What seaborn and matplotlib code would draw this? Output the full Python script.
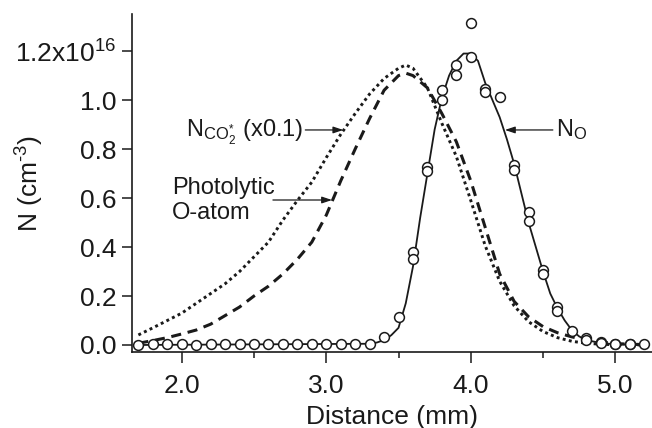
import numpy as np
import matplotlib
matplotlib.use("Agg")
import matplotlib.pyplot as plt
import seaborn as sns

# distance (mm) of the measured points, and two repeat measurements (x1e16 cm^-3)
circ_x = [1.7, 1.8, 1.9, 2.0, 2.1, 2.2, 2.3, 2.4, 2.5, 2.6, 2.7, 2.8, 2.9, 3.0,
          3.1, 3.2, 3.3, 3.4, 3.5, 3.6, 3.7, 3.8, 3.9, 4.0, 4.1, 4.2, 4.3, 4.4,
          4.5, 4.6, 4.7, 4.8, 4.9, 5.0, 5.1, 5.2]
circ_a = [0.0, 0.005, 0.003, 0.003, 0.0, 0.002, 0.004, 0.002, 0.002, 0.004,
          0.003, 0.002, 0.004, 0.003, 0.005, 0.004, 0.006, 0.034, 0.116, 0.381,
          0.725, 1.04, 1.143, 1.316, 1.045, 1.011, 0.735, 0.544, 0.306, 0.156,
          0.058, 0.030, 0.013, 0.006, 0.005, 0.004]
circ2_x = [3.6, 3.7, 3.8, 3.9, 4.0, 4.1, 4.3, 4.4, 4.5, 4.6, 4.8, 4.9, 5.0, 5.1]
circ_b = [0.351, 0.712, 1.0, 1.102, 1.174, 1.035, 0.714, 0.506, 0.29, 0.14,
          0.02, 0.008, 0.002, 0.002]

# N_O fit (solid)
fit_x = [1.7, 3.3, 3.35, 3.4, 3.45, 3.5, 3.55, 3.6, 3.65, 3.7, 3.75, 3.8, 3.85,
         3.9, 3.95, 4.0, 4.05, 4.1, 4.15, 4.2, 4.25, 4.3, 4.35, 4.4, 4.45, 4.5,
         4.55, 4.6, 4.65, 4.7, 4.75, 4.8, 4.9, 5.0, 5.2]
fit_y = [0.0, 0.005, 0.01, 0.02, 0.04, 0.07, 0.17, 0.32, 0.52, 0.70, 0.88, 1.01,
         1.10, 1.16, 1.19, 1.19, 1.16, 1.07, 1.00, 0.93, 0.84, 0.74, 0.62, 0.50,
         0.40, 0.30, 0.21, 0.15, 0.10, 0.06, 0.035, 0.02, 0.008, 0.003, 0.0]

# N_CO2* (x0.1) (dotted)
co2_x = [1.7, 1.8, 1.9, 2.0, 2.1, 2.2, 2.3, 2.4, 2.5, 2.6, 2.7, 2.8, 2.9, 3.0,
         3.1, 3.2, 3.3, 3.4, 3.5, 3.55, 3.6, 3.7, 3.8, 3.9, 4.0, 4.1, 4.2, 4.3,
         4.4, 4.5, 4.6, 4.7, 4.8, 4.9, 5.0, 5.2]
co2_y = [0.041, 0.07, 0.10, 0.13, 0.17, 0.21, 0.25, 0.30, 0.36, 0.42, 0.51,
         0.59, 0.665, 0.765, 0.86, 0.945, 1.025, 1.088, 1.13, 1.143, 1.13, 1.05,
         0.905, 0.77, 0.59, 0.405, 0.26, 0.16, 0.095, 0.055, 0.03, 0.015, 0.007,
         0.003, 0.001, 0.0]

# photolytic O-atom (dashed)
pho_x = [1.7, 1.8, 1.9, 2.0, 2.1, 2.2, 2.3, 2.4, 2.5, 2.6, 2.7, 2.8, 2.9, 3.0,
         3.1, 3.2, 3.3, 3.4, 3.5, 3.55, 3.6, 3.7, 3.8, 3.9, 4.0, 4.1, 4.2, 4.3,
         4.4, 4.5, 4.6, 4.7, 4.8, 4.9, 5.0, 5.1, 5.2]
pho_y = [0.007, 0.018, 0.03, 0.045, 0.061, 0.085, 0.12, 0.155, 0.20, 0.24, 0.29,
         0.35, 0.42, 0.53, 0.67, 0.80, 0.925, 1.04, 1.10, 1.11, 1.10, 1.05, 0.945,
         0.83, 0.67, 0.48, 0.29, 0.178, 0.115, 0.075, 0.05, 0.033, 0.02, 0.012,
         0.006, 0.003, 0.002]

y_ticks = [0.0, 0.2, 0.4, 0.6, 0.8, 1.0, 1.2]
y_labels = ["0.0", "0.2", "0.4", "0.6", "0.8", "1.0", "1.2x10$^{16}$"]
x_ticks = [2.0, 3.0, 4.0, 5.0]
x_labels = ["2.0", "3.0", "4.0", "5.0"]

sns.set_style("ticks")
plt.rcParams["font.family"] = ["Liberation Sans", "DejaVu Sans"]
plt.rcParams["mathtext.fontset"] = "custom"
plt.rcParams["mathtext.rm"] = "Liberation Sans"
plt.rcParams["mathtext.it"] = "Liberation Sans"
plt.rcParams["mathtext.default"] = "regular"

ink = "#1a1a1a"
fig = plt.figure(figsize=(6.52, 4.28), dpi=100)
ax = fig.add_axes([0.2025, 0.1776, 0.7975, 0.7894])

sns.lineplot(x=co2_x, y=co2_y, ax=ax, color=ink, lw=2.1,
             linestyle=(0, (1, 1.15)), sort=False)
sns.lineplot(x=pho_x, y=pho_y, ax=ax, color=ink, lw=2.2,
             linestyle=(0, (3.3, 2.2)), sort=False)
sns.lineplot(x=fit_x, y=fit_y, ax=ax, color=ink, lw=1.3, sort=False)
sns.scatterplot(x=circ_x, y=circ_a, ax=ax, marker="o", s=50,
                facecolor="white", edgecolor=ink, linewidth=1.1, zorder=5)
sns.scatterplot(x=circ2_x, y=circ_b, ax=ax, marker="o", s=50,
                facecolor="white", edgecolor=ink, linewidth=1.1, zorder=5)

ax.set_xlim(1.656, 5.254)
ax.set_ylim(-0.0286, 1.351)
ax.set_xticks(x_ticks)
ax.set_xticklabels(x_labels)
ax.set_xticks([2.5, 3.5, 4.5], minor=True)
ax.set_yticks(y_ticks)
ax.set_yticklabels(y_labels)
ax.tick_params(axis="both", which="major", labelsize=19, length=7, width=1.1,
               color=ink, labelcolor=ink)
ax.tick_params(axis="x", which="major", length=8, pad=8)
ax.tick_params(axis="y", which="major", pad=4)
ax.tick_params(axis="x", which="minor", length=4, width=1.1, color=ink)
sns.despine(ax=ax)
for s in ["left", "bottom"]:
    ax.spines[s].set_linewidth(1.2)
    ax.spines[s].set_color(ink)

ax.set_xlabel("Distance (mm)", fontsize=19, color=ink, labelpad=5)
ax.set_ylabel("N (cm$^{\u20103}$)", fontsize=19, color=ink)
ax.yaxis.set_label_coords(-0.165, 0.5)

arrow = dict(arrowstyle="-|>,head_length=0.6,head_width=0.2", color=ink,
             lw=0.9, shrinkA=0, shrinkB=0, mutation_scale=10)
ax.text(2.839, 0.852, r"N$_{\mathrm{CO}_2^{*}}$ (x0.1)", ha="right",
        va="baseline", fontsize=17, color=ink)
ax.annotate("", xy=(3.118, 0.878), xytext=(2.855, 0.878), arrowprops=arrow)
ax.text(1.931, 0.59, "Photolytic\nO-atom", ha="left", va="center",
        fontsize=17, color=ink, linespacing=1.2)
ax.annotate("", xy=(3.04, 0.592), xytext=(2.631, 0.592), arrowprops=arrow)
ax.text(4.593, 0.852, r"N$_{\mathrm{O}}$", ha="left", va="baseline",
        fontsize=17, color=ink)
ax.annotate("", xy=(4.236, 0.878), xytext=(4.568, 0.878), arrowprops=arrow)

fig.savefig("out.png", dpi=100)
